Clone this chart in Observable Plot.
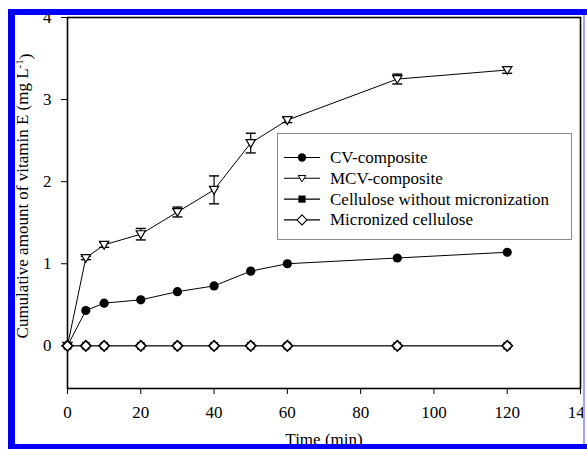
<!DOCTYPE html>
<html>
<head>
<meta charset="utf-8">
<script src="https://cdn.jsdelivr.net/npm/d3@7"></script>
<script src="https://cdn.jsdelivr.net/npm/@observablehq/plot@0.6"></script>
<style>
  html, body { margin: 0; padding: 0; background: white; }
  #wrap { position: relative; width: 587px; height: 449px; overflow: hidden; background: white; }
  #wrap > svg { position: absolute; left: 0; top: 0; }
  .bar { position: absolute; }
  #legend { position: absolute; left: 277px; top: 133px; width: 295px; height: 107px; box-sizing: border-box;
            border: 1px solid #8a8a8a; background: white; }
  #legend svg { position: absolute; left: 0; top: 0; }
</style>
</head>
<body>
<div id="wrap"></div>
<script>
// ---- data ----
const time       = [0, 5, 10, 20, 30, 40, 50, 60, 90, 120];
const cv         = [0, 0.43, 0.52, 0.56, 0.66, 0.73, 0.91, 1.00, 1.07, 1.14];
const mcv        = [0, 1.07, 1.23, 1.36, 1.63, 1.90, 2.47, 2.75, 3.25, 3.36];
const mcvErr     = [0, 0.02, 0.03, 0.07, 0.06, 0.17, 0.12, 0.03, 0.06, 0.04];
const cellulose  = [0, 0, 0, 0, 0, 0, 0, 0, 0, 0];
const micronized = [0, 0, 0, 0, 0, 0, 0, 0, 0, 0];
const seriesNames = ["CV-composite", "MCV-composite", "Cellulose without micronization", "Micronized cellulose"];
const xTicks = [0, 20, 40, 60, 80, 100, 120, 140];
const yTicks = [0, 1, 2, 3, 4];
const xLabel = "Time (min)";
const yLabelMain = "Cumulative amount of vitamin E (mg L";
const yLabelSup = "-1";
const yLabelEnd = ")";

const rows = time.map((t, i) => ({t, cv: cv[i], mcv: mcv[i], err: mcvErr[i], cel: cellulose[i], mic: micronized[i]}));

// ---- custom symbols ----
const triDown = {draw(ctx, size) { const r = Math.sqrt(size / Math.PI);
  ctx.moveTo(-r, -r * 0.75); ctx.lineTo(r, -r * 0.75); ctx.lineTo(0, r * 0.95); ctx.closePath(); }};
const diamondSym = {draw(ctx, size) { const r = Math.sqrt(size / Math.PI);
  ctx.moveTo(0, -r); ctx.lineTo(r, 0); ctx.lineTo(0, r); ctx.lineTo(-r, 0); ctx.closePath(); }};
const squareSym = {draw(ctx, size) { const r = Math.sqrt(size / Math.PI);
  ctx.rect(-r, -r, 2 * r, 2 * r); }};
const capSym = {draw(ctx, size) { const r = Math.sqrt(size / Math.PI);
  ctx.moveTo(-r, 0); ctx.lineTo(r, 0); }};

const FONT = "'Liberation Serif', 'Times New Roman', serif";

const chart = Plot.plot({
  width: 587, height: 449,
  marginLeft: 67, marginRight: 7, marginTop: 17, marginBottom: 61,
  style: {fontFamily: FONT, fontSize: "17px", color: "black", background: "transparent", overflow: "visible"},
  x: {domain: [0, 140], ticks: xTicks, tickSize: 6, tickPadding: 11, label: null, tickFormat: d => String(d)},
  y: {domain: [-0.52, 4], ticks: yTicks, tickSize: 6, tickPadding: 10, label: null, tickFormat: d => String(d)},
  marks: [
    Plot.frame({stroke: "black", strokeWidth: 1.6}),
    Plot.line(rows, {x: "t", y: "cv", stroke: "black", strokeWidth: 1}),
    Plot.line(rows, {x: "t", y: "mcv", stroke: "black", strokeWidth: 1}),
    Plot.line(rows, {x: "t", y: "cel", stroke: "black", strokeWidth: 0.8}),
    Plot.line(rows, {x: "t", y: "mic", stroke: "black", strokeWidth: 0.8}),
    Plot.ruleX(rows, {x: "t", y1: d => d.mcv - d.err, y2: d => d.mcv + d.err, stroke: "black", strokeWidth: 1.2}),
    Plot.dot(rows, {x: "t", y: d => d.mcv + d.err, symbol: capSym, r: 5, stroke: "black", strokeWidth: 1.4}),
    Plot.dot(rows, {x: "t", y: d => d.mcv - d.err, symbol: capSym, r: 5, stroke: "black", strokeWidth: 1.4}),
    Plot.dot(rows, {x: "t", y: "cv", symbol: "circle", r: 4.6, fill: "black", stroke: "none"}),
    Plot.dot(rows, {x: "t", y: "mcv", symbol: triDown, r: 4.6, fill: "white", stroke: "black", strokeWidth: 1.2}),
    Plot.dot(rows, {x: "t", y: "cel", symbol: squareSym, r: 3.8, fill: "black", stroke: "none"}),
    Plot.dot(rows, {x: "t", y: "mic", symbol: diamondSym, r: 5.2, fill: "white", stroke: "black", strokeWidth: 1.6}),
    Plot.text([xLabel], {frameAnchor: "bottom", text: d => d, textAnchor: "middle", dy: 56.6, fill: "black"}),
    Plot.text([yLabelMain + yLabelSup + yLabelEnd], {frameAnchor: "left", text: d => d, textAnchor: "middle", rotate: -90, dx: -45, dy: -7, fill: "black"})
  ]
});

const wrap = document.getElementById("wrap");
wrap.appendChild(chart);

// superscript in y label
try {
  const full = yLabelMain + yLabelSup + yLabelEnd;
  const t = Array.from(chart.querySelectorAll("text")).find(el => el.textContent === full);
  if (t) {
    while (t.firstChild) t.removeChild(t.firstChild);
    const ns = "http://www.w3.org/2000/svg";
    t.appendChild(document.createTextNode(yLabelMain));
    const s = document.createElementNS(ns, "tspan");
    s.setAttribute("dy", "-0.45em"); s.setAttribute("font-size", "11px"); s.textContent = yLabelSup;
    const e = document.createElementNS(ns, "tspan");
    e.setAttribute("dy", "0.45em"); e.textContent = yLabelEnd;
    t.appendChild(s); t.appendChild(e);
  }
} catch (err) {}

// ---- legend ----
const legend = document.createElement("div");
legend.id = "legend";
wrap.appendChild(legend);
const legendSpecs = [
  {sym: d3.symbolCircle, size: Math.PI * 4.2 * 4.2, fill: "black", stroke: "none", sw: 0},
  {sym: triDown, size: Math.PI * 3.8 * 3.8, fill: "white", stroke: "black", sw: 1},
  {sym: squareSym, size: Math.PI * 3.6 * 3.6, fill: "black", stroke: "none", sw: 0},
  {sym: diamondSym, size: Math.PI * 5 * 5, fill: "white", stroke: "black", sw: 1.1}
];
const lsvg = d3.select(legend).append("svg").attr("width", 293).attr("height", 105)
  .style("font-family", FONT).style("font-size", "17px");
const rowG = lsvg.selectAll("g").data(seriesNames).join("g")
  .attr("transform", (d, i) => `translate(0,${23.5 + i * 20.8})`);
rowG.append("line").attr("x1", 6).attr("x2", 42).attr("y1", 0).attr("y2", 0).attr("stroke", "black").attr("stroke-width", 1.1);
rowG.append("path").attr("transform", "translate(24,0)")
  .attr("d", (d, i) => d3.symbol(legendSpecs[i].sym, legendSpecs[i].size)())
  .attr("fill", (d, i) => legendSpecs[i].fill).attr("stroke", (d, i) => legendSpecs[i].stroke)
  .attr("stroke-width", (d, i) => legendSpecs[i].sw);
rowG.append("text").attr("x", 52).attr("dy", "0.32em").attr("fill", "black").text(d => d);

// ---- blue page frame ----
function bar(l, t, w, h, c) { const d = document.createElement("div"); d.className = "bar";
  Object.assign(d.style, {left: l + "px", top: t + "px", width: w + "px", height: h + "px", background: c}); wrap.appendChild(d); }
bar(0, 0, 8, 449, "white");
bar(0, 0, 587, 9, "white");
bar(8, 9, 7, 440, "#0000f5");
bar(8, 9, 579, 6, "#0000f5");
bar(8, 444, 579, 5, "#0000f5");
bar(583, 15, 2, 429, "#a4a4f6");
bar(585, 15, 2, 429, "white");
</script>
</body>
</html>
